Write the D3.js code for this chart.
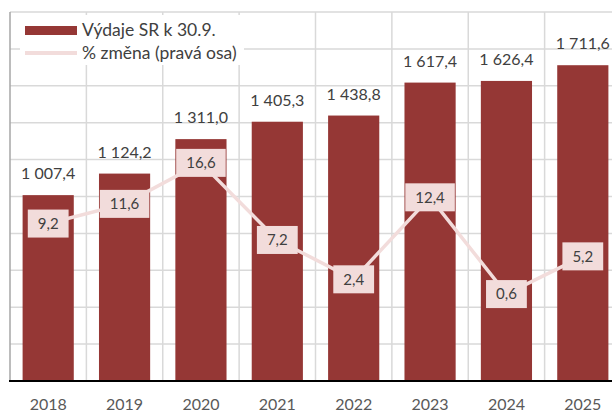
<!DOCTYPE html>
<html>
<head>
<meta charset="utf-8">
<script src="https://cdn.jsdelivr.net/npm/d3@7"></script>
<style>
  body { margin: 0; background: #fff; }
  svg { display: block; font-family: Lato, "Open Sans", sans-serif; }
</style>
</head>
<body>
<div class="chart"></div>
<script>
var years = ['2018', '2019', '2020', '2021', '2022', '2023', '2024', '2025'];
var spending = [1007.4, 1124.2, 1311.0, 1405.3, 1438.8, 1617.4, 1626.4, 1711.6];
var change = [9.2, 11.6, 16.6, 7.2, 2.4, 12.4, 0.6, 5.2];
var leftTicks = [0, 200, 400, 600, 800, 1000, 1200, 1400, 1600, 1800, 2000];
var legendLabels = ['Výdaje SR k 30.9.', '% změna (pravá osa)'];

var width = 612,
    height = 412,
    plot = { left: 10, right: 621, top: 12, bottom: 381 },
    barColor = '#953735',
    lineColor = '#f2dcdb';

var fmt = function (v) {
  var s = v.toFixed(1).replace('.', ',');
  var parts = s.split(',');
  parts[0] = parts[0].replace(/\B(?=(\d{3})+(?!\d))/g, ' ');
  return parts.join(',');
};

var x = d3.scaleBand().domain(years).range([plot.left, plot.right]).paddingInner(0.33).paddingOuter(0.165),
    y = d3.scaleLinear().domain([0, 2000]).range([plot.bottom, plot.top]),
    y2 = d3.scaleLinear().domain([-10, 35]).range([plot.bottom, plot.top]);

var svg = d3.select('.chart').append('svg').attr('width', width).attr('height', height);

// gridlines
var grid = svg.append('g').attr('stroke', '#d9d9d9').attr('stroke-width', 1.5);
grid.selectAll('line.h').data(leftTicks.slice(1)).enter().append('line')
  .attr('x1', plot.left).attr('x2', plot.right)
  .attr('y1', function (d) { return y(d); }).attr('y2', function (d) { return y(d); });
grid.selectAll('line.v').data(years).enter().append('line')
  .attr('x1', function (d) { return x(d) + x.bandwidth() + x.step() * 0.165; })
  .attr('x2', function (d) { return x(d) + x.bandwidth() + x.step() * 0.165; })
  .attr('y1', plot.top).attr('y2', plot.bottom);

// left axis line
svg.append('line').attr('x1', plot.left).attr('x2', plot.left)
  .attr('y1', plot.top).attr('y2', plot.bottom)
  .attr('stroke', '#a6a6a6').attr('stroke-width', 1.5);

// legend
var legend = svg.append('g');
legend.append('rect').attr('x', 20).attr('y', 15).attr('width', 224).attr('height', 50).attr('fill', '#fff');
legend.append('rect').attr('x', 25).attr('y', 26).attr('width', 52).attr('height', 9).attr('fill', barColor);
legend.append('line').attr('x1', 25).attr('x2', 77).attr('y1', 53).attr('y2', 53)
  .attr('stroke', lineColor).attr('stroke-width', 4);
legend.selectAll('text').data(legendLabels).enter().append('text')
  .attr('x', 82).attr('y', function (d, i) { return 36 + i * 23; })
  .attr('font-size', 17.5).attr('fill', '#404040')
  .text(function (d) { return d; });

// bars
svg.append('g').selectAll('rect').data(spending).enter().append('rect')
  .attr('x', function (d, i) { return x(years[i]); })
  .attr('y', function (d) { return y(d); })
  .attr('width', x.bandwidth())
  .attr('height', function (d) { return y(0) - y(d); })
  .attr('fill', barColor);

svg.append('g').selectAll('text').data(spending).enter().append('text')
  .attr('x', function (d, i) { return x(years[i]) + x.bandwidth() / 2; })
  .attr('y', function (d) { return y(d) - 16; })
  .attr('text-anchor', 'middle').attr('font-size', 16).attr('fill', '#404040')
  .text(fmt);

// x axis
svg.append('line').attr('x1', plot.left - 1).attr('x2', plot.right)
  .attr('y1', plot.bottom).attr('y2', plot.bottom)
  .attr('stroke', '#000').attr('stroke-width', 2);
svg.append('g').selectAll('text').data(years).enter().append('text')
  .attr('x', function (d) { return x(d) + x.bandwidth() / 2; })
  .attr('y', 410)
  .attr('text-anchor', 'middle').attr('font-size', 16).attr('fill', '#595959')
  .text(function (d) { return d; });

// change line
var line = d3.line()
  .x(function (d, i) { return x(years[i]) + x.bandwidth() / 2; })
  .y(function (d) { return y2(d); });
svg.append('path').datum(change).attr('d', line)
  .attr('fill', 'none').attr('stroke', lineColor).attr('stroke-width', 3.5);

var labels = svg.append('g').selectAll('g').data(change).enter().append('g')
  .attr('transform', function (d, i) {
    return 'translate(' + (x(years[i]) + x.bandwidth() / 2) + ',' + y2(d) + ')';
  });
labels.append('text')
  .attr('text-anchor', 'middle').attr('dy', '0.35em')
  .attr('font-size', 15).attr('fill', '#404040')
  .text(function (d) { return fmt(d); });
labels.insert('rect', 'text')
  .each(function () {
    var w = this.parentNode.querySelector('text').getComputedTextLength() + 20;
    d3.select(this).attr('x', -w / 2).attr('y', -14).attr('width', w).attr('height', 28);
  })
  .attr('fill', lineColor);
</script>
</body>
</html>
